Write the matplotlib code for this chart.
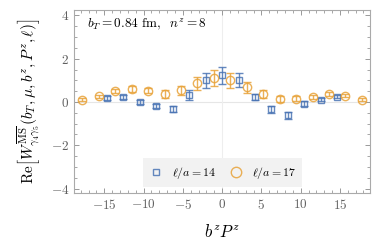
import numpy as np
import matplotlib
matplotlib.use("Agg")
import matplotlib.pyplot as plt
from matplotlib.ticker import MultipleLocator, FuncFormatter
from matplotlib.lines import Line2D

# -------------------------------------------
#  Data
# -------------------------------------------
step = 2 * np.pi / 3                      # spacing of b^z P^z points

z_14 = [-7, -6, -5, -4, -3, -2, -1, 0, 1, 2, 3, 4, 5, 6, 7]
re_14 = [0.18, 0.23, 0.01, -0.19, -0.33, 0.33, 1.00, 1.23, 1.02, 0.22,
         -0.34, -0.62, -0.07, 0.11, 0.25]
err_14 = [0.08, 0.08, 0.09, 0.10, 0.13, 0.22, 0.35, 0.38, 0.34, 0.15,
          0.15, 0.17, 0.10, 0.08, 0.08]

z_17 = [-8.5, -7.5, -6.5, -5.5, -4.5, -3.5, -2.5, -1.5, -0.5,
        0.5, 1.5, 2.5, 3.5, 4.5, 5.5, 6.5, 7.5, 8.5]
re_17 = [0.11, 0.26, 0.51, 0.60, 0.53, 0.37, 0.54, 0.86, 1.11,
         1.00, 0.67, 0.36, 0.14, 0.15, 0.23, 0.38, 0.29, 0.11]
err_17 = [0.07, 0.08, 0.10, 0.12, 0.13, 0.20, 0.21, 0.30, 0.38,
          0.36, 0.27, 0.18, 0.13, 0.12, 0.10, 0.10, 0.08, 0.07]

blue = "#4a74b4"
orange = "#e8a33a"

# -------------------------------------------
#  Plot
# -------------------------------------------
plt.rcParams["mathtext.fontset"] = "cm"
plt.rcParams["font.family"] = "serif"

fig = plt.figure(figsize=(3.82, 2.43), dpi=100)
ax = fig.add_axes([0.194, 0.206, 0.775, 0.753])

ax.axhline(0, color="#e6e6e6", lw=0.8, zorder=0)
ax.axvline(0, color="#eeeeee", lw=0.8, zorder=0)

x14 = np.array(z_14) * step
x17 = np.array(z_17) * step

ax.errorbar(x14, re_14, yerr=err_14, fmt="s", mfc="none", mec=blue, ecolor=blue,
            ms=5, mew=1.0, elinewidth=1.0, capsize=3, capthick=1.0, alpha=0.85)
ax.errorbar(x17, re_17, yerr=err_17, fmt="o", mfc="none", mec=orange, ecolor=orange,
            ms=6, mew=1.0, elinewidth=1.0, capsize=3, capthick=1.0, alpha=0.85)

ax.set_xlim(-6 * np.pi, 6 * np.pi)
ax.set_ylim(-4.2, 4.25)

ax.xaxis.set_major_locator(MultipleLocator(5))
ax.xaxis.set_minor_locator(MultipleLocator(1))
ax.yaxis.set_major_locator(MultipleLocator(2))
ax.yaxis.set_minor_locator(MultipleLocator(0.5))
fmt = FuncFormatter(lambda v, p: r"$%g$" % v)
ax.xaxis.set_major_formatter(fmt)
ax.yaxis.set_major_formatter(fmt)

ax.tick_params(which="both", direction="in", top=True, right=True,
               color="#999999", labelcolor="#606060", labelsize=9.5)
ax.tick_params(which="major", length=3.5, width=0.7)
ax.tick_params(which="minor", length=2, width=0.6)
for s in ax.spines.values():
    s.set_color("#aaaaaa")
    s.set_linewidth(0.8)

ax.set_xlabel(r"$b^zP^z$", fontsize=12, labelpad=9)
ax.set_ylabel(r"$\mathrm{Re}\left[W^{\overline{\mathrm{MS}}}_{\gamma_4\gamma_5}(b_T,\mu,b^z,P^z,\ell)\right]$",
              fontsize=11, labelpad=6)

ax.text(0.045, 0.92, r"$b_T=0.84\ \mathrm{fm},\ \ n^z=8$", transform=ax.transAxes,
        fontsize=9.5, va="center", ha="left")

# legend shows markers only
handles = [Line2D([], [], ls="none", marker="s", ms=4.5, mfc="none", mec=blue, mew=1.0, alpha=0.85),
           Line2D([], [], ls="none", marker="o", ms=7.5, mfc="none", mec=orange, mew=1.0, alpha=0.85)]
leg = ax.legend(handles, [r"$\ell/a=14$", r"$\ell/a=17$"], loc="lower center",
                bbox_to_anchor=(0.502, 0.031), ncol=2, frameon=True, fontsize=8.5,
                handlelength=1.0, handletextpad=0.85, columnspacing=1.2,
                borderpad=0.55, borderaxespad=0)
leg.get_frame().set_facecolor("#f2f2f2")
leg.get_frame().set_edgecolor("none")
leg.get_frame().set_alpha(1)
leg.get_frame().set_boxstyle("square", pad=0)

fig.savefig("out.png", dpi=100)
